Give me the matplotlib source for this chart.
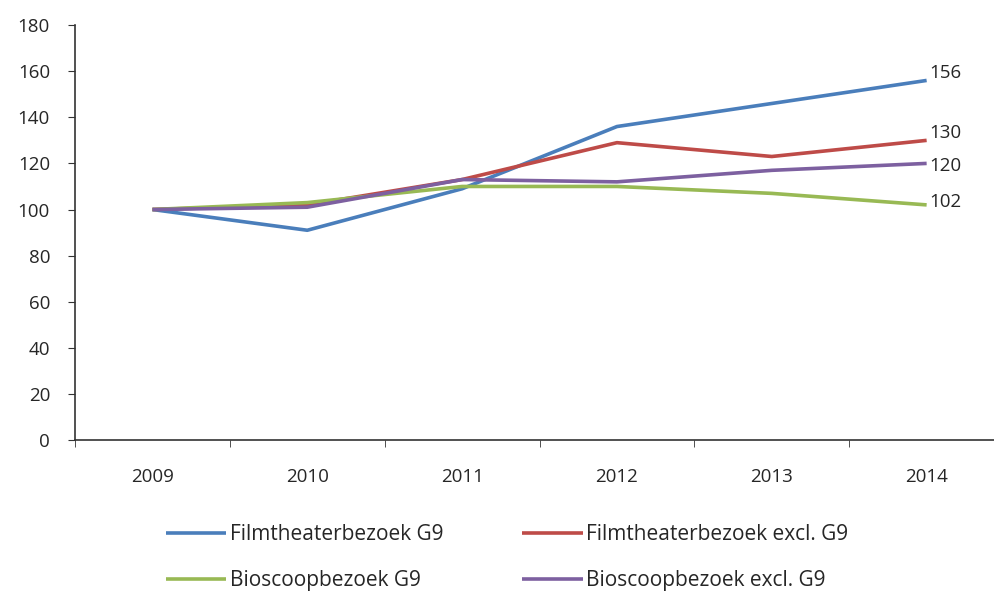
import numpy as np
import matplotlib
matplotlib.use("Agg")
import matplotlib.pyplot as plt

plt.rcParams["font.family"] = ["Open Sans", "DejaVu Sans"]

# ---------------------------------------------------------------------------
years = ["2009", "2010", "2011", "2012", "2013", "2014"]
film_g9 = [100, 91, 109, 136, 146, 156]
film_excl = [100, 102, 113, 129, 123, 130]
bios_g9 = [100, 103, 110, 110, 107, 102]
bios_excl = [100, 101, 113, 112, 117, 120]
end_labels = ["156", "130", "102", "120"]
series_names = ["Filmtheaterbezoek G9", "Filmtheaterbezoek excl. G9",
                "Bioscoopbezoek G9", "Bioscoopbezoek excl. G9"]
# ---------------------------------------------------------------------------

COLORS = ["#4a7ebb", "#be4b48", "#98b954", "#7d60a0"]
LABEL_DY = [5, 5, 2, -2]   # small vertical nudges for the end labels (points)
TXT = "#262626"

fig = plt.figure(figsize=(9.95, 5.91), dpi=100)
ax = fig.add_axes([0.0754, 0.2555, 0.9337, 0.702])

x = np.arange(len(years))
all_series = [film_g9, film_excl, bios_g9, bios_excl]
lines = []
for vals, name, c in zip(all_series, series_names, COLORS):
    ln, = ax.plot(x, vals, color=c, lw=2.6, label=name, solid_capstyle="butt")
    lines.append(ln)

for vals, lab, c, dy in zip(all_series, end_labels, COLORS, LABEL_DY):
    ax.annotate(lab, (x[-1], vals[-1]), xytext=(2, dy), textcoords="offset points",
                ha="left", va="center", fontsize=13.5, color=TXT)

ax.set_xlim(-0.5, len(years) - 0.5)
ax.set_ylim(0, 180)
ax.set_yticks(np.arange(0, 181, 20))
ax.set_xticks(x)
ax.set_xticklabels(years)
ax.set_xticks(np.arange(-0.5, len(years), 1.0), minor=True)
ax.tick_params(axis="x", which="major", length=0, pad=20, labelsize=13.5, labelcolor=TXT)
ax.tick_params(axis="x", which="minor", length=5, direction="out", color="#333333")
ax.tick_params(axis="y", length=5, direction="out", pad=13, labelsize=13.5,
               color="#333333", labelcolor=TXT)

for side in ["top", "right"]:
    ax.spines[side].set_visible(False)
for side in ["left", "bottom"]:
    ax.spines[side].set_color("#333333")
    ax.spines[side].set_linewidth(1.2)

# legend filled column-wise: reorder so rows read film / bioscoop
order = [0, 2, 1, 3]
fig.legend([lines[i] for i in order], [series_names[i] for i in order],
           loc="lower left", bbox_to_anchor=(0.148, -0.032),
           ncol=2, frameon=False, fontsize=15, handlelength=2.9,
           handletextpad=0.15, columnspacing=3.8, labelspacing=1.2,
           labelcolor=TXT)

fig.savefig("out.png", dpi=100)
